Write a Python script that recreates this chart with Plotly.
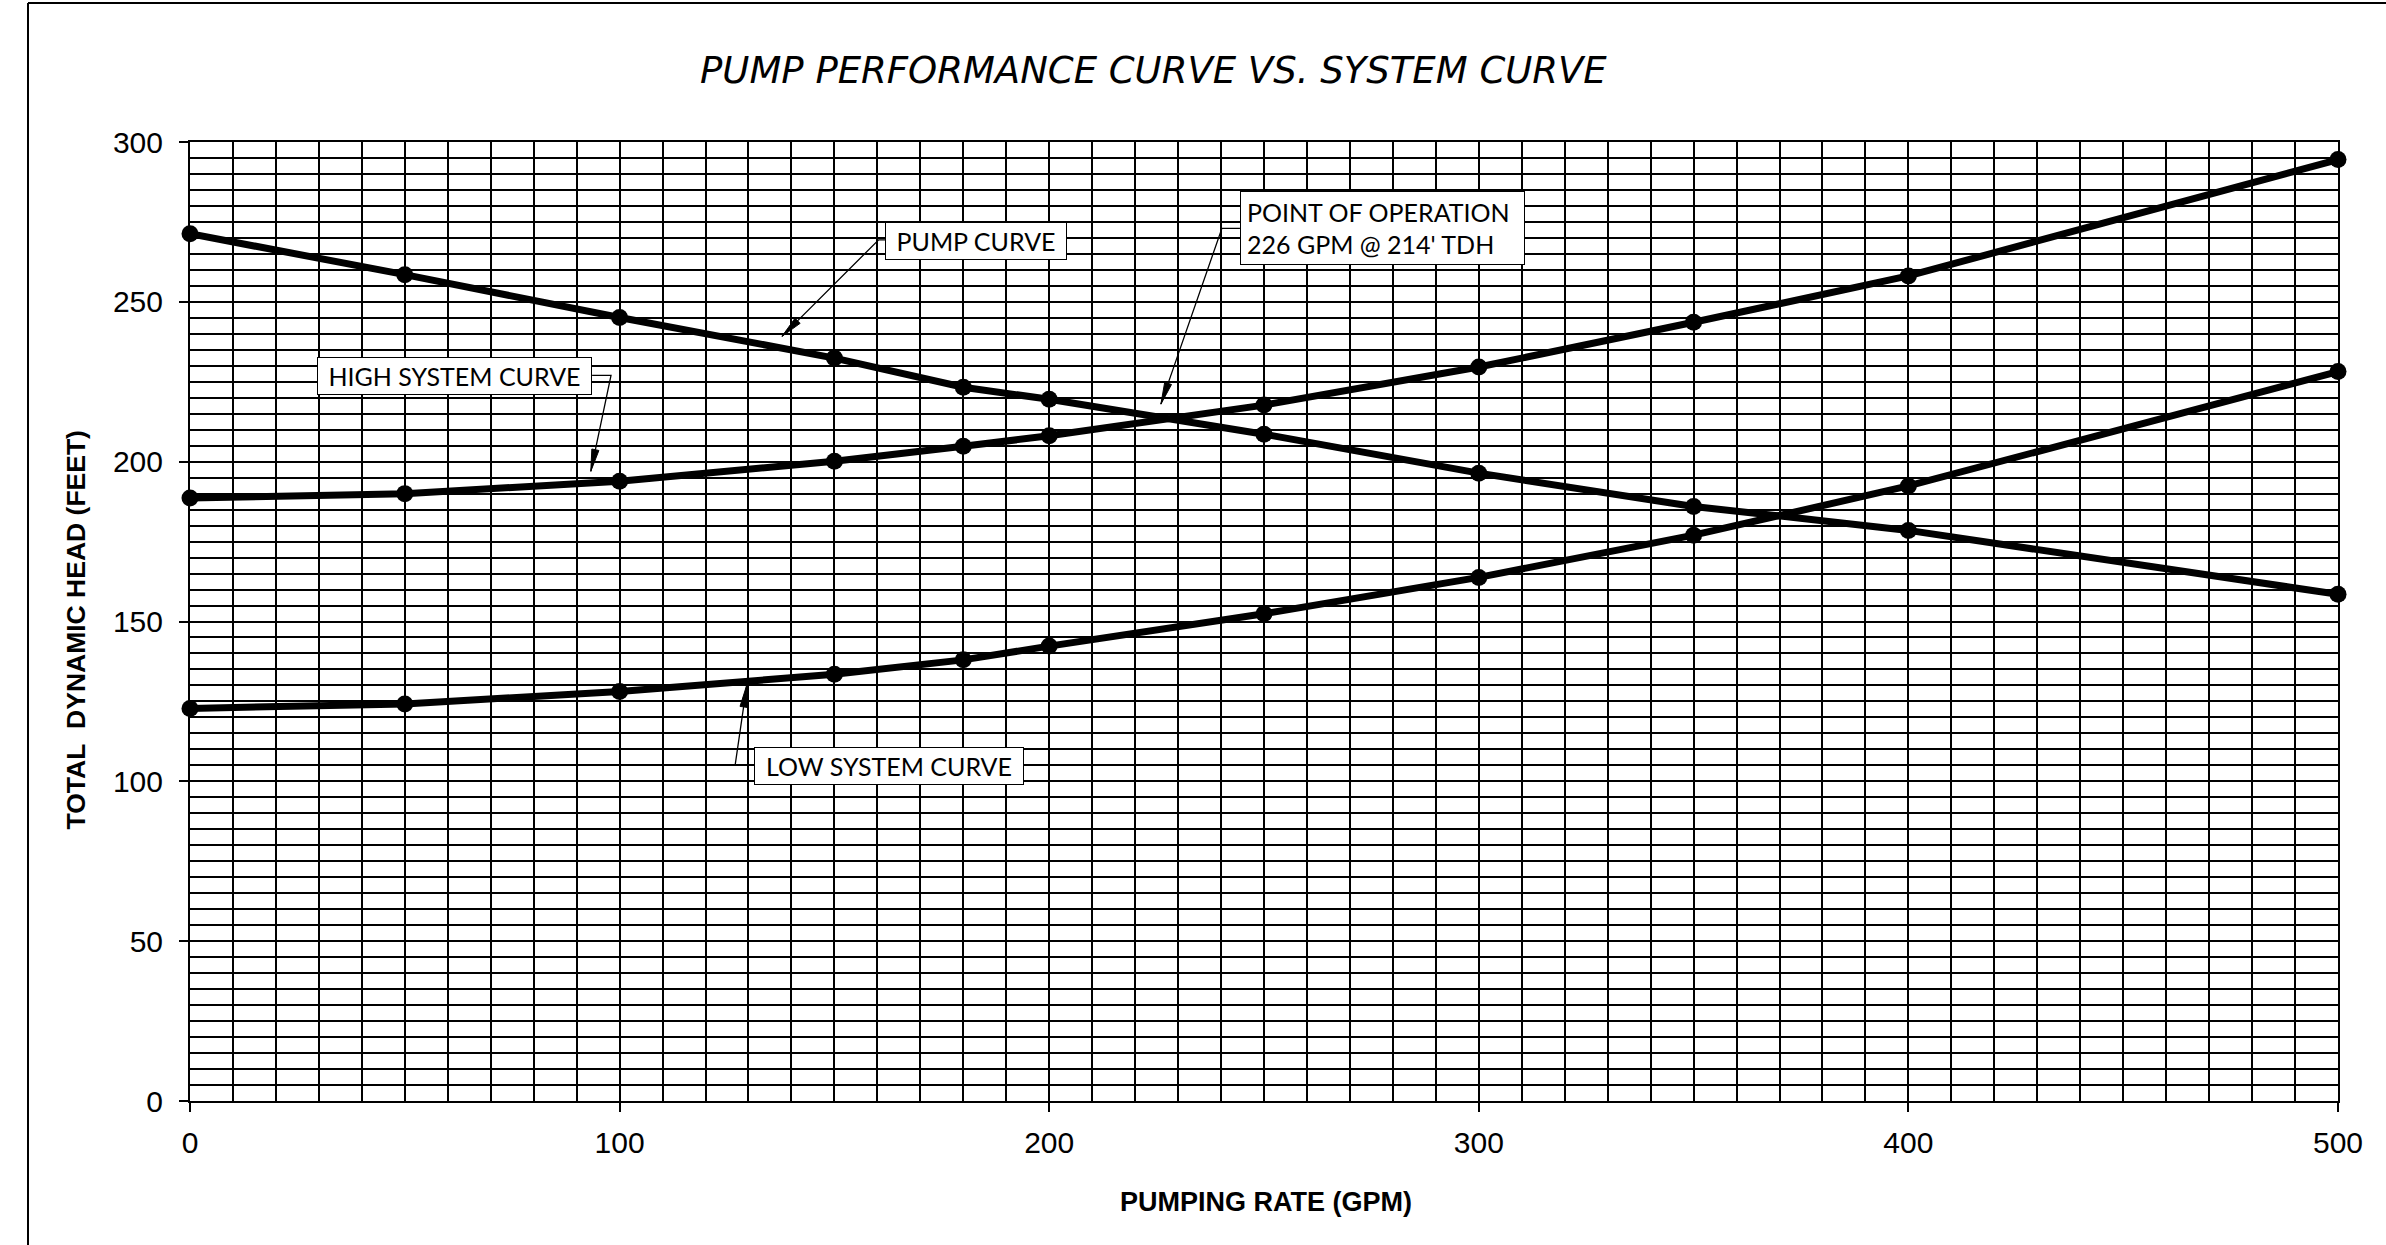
import math
import plotly.graph_objects as go

# ---- data -------------------------------------------------------------
gpm = [0, 50, 100, 150, 180, 200, 250, 300, 350, 400, 500]
pump_head = [271.3, 258.5, 245.1, 232.4, 223.3, 219.5, 208.6, 196.4, 186.0, 178.5, 158.5]
high_system_head = [188.6, 190.0, 193.9, 200.1, 204.8, 208.1, 217.7, 229.6, 243.6, 258.1, 294.5]
low_system_head = [122.8, 124.2, 128.1, 133.5, 138.0, 142.3, 152.4, 163.8, 177.0, 192.4, 228.2]

x_ticks = [0, 100, 200, 300, 400, 500]
y_ticks = [0, 50, 100, 150, 200, 250, 300]

title_text = "PUMP PERFORMANCE CURVE VS. SYSTEM CURVE"
x_title = "PUMPING RATE (GPM)"
y_title = "TOTAL\u00a0 DYNAMIC HEAD (FEET)"

# ---- page geometry ----------------------------------------------------
W, H = 2386, 1245
ML, MR, MT, MB = 190, 48, 142, 144
PW, PH = W - ML - MR, H - MT - MB
X_RANGE = [0, 500]
Y_RANGE = [0, 300]
SX = PW / (X_RANGE[1] - X_RANGE[0])   # px per GPM
SY = PH / (Y_RANGE[1] - Y_RANGE[0])   # px per foot


def paper_x(px):
    return (px - ML) / PW


def paper_y(py):
    return (H - MB - py) / PH


fig = go.Figure()

line_style = dict(color="black", width=7)
marker_style = dict(color="black", size=17)
for name, ys in [("Pump curve", pump_head),
                 ("High system curve", high_system_head),
                 ("Low system curve", low_system_head)]:
    fig.add_trace(go.Scatter(x=gpm, y=ys, mode="lines+markers", name=name,
                             line=line_style, marker=marker_style,
                             cliponaxis=False, showlegend=False))

# ---- callout labels with elbow leaders and arrowheads ----------------
# (text, centre, box w/h in px, align, box edge point, elbow point, arrow tip)
callouts = [
    ("PUMP CURVE", (183.0, 268.9), (182, 38), "center",
     (161.8, 269.4), (160.3, 269.4), (137.8, 239.2)),
    ("POINT OF OPERATION<br>226 GPM @ 214' TDH", (277.6, 273.0), (285, 74), "left",
     (244.4, 273.0), (240.2, 273.0), (226.0, 218.0)),
    ("HIGH SYSTEM CURVE", (61.6, 226.9), (275, 38), "center",
     (93.6, 227.0), (98.0, 227.0), (93.3, 197.0)),
    ("LOW SYSTEM CURVE", (162.8, 104.8), (270, 38), "center",
     (131.3, 105.1), (126.9, 105.1), (129.6, 130.1)),
]

label_font = dict(family="Lato, 'Open Sans', sans-serif", size=25, color="black")
PAD = 6
shapes = []
annotations = []
for text, (cx, cy), (bw, bh), align, edge, elbow, tip in callouts:
    annotations.append(dict(
        x=cx, y=cy, xref="x", yref="y", text=text, showarrow=False,
        xanchor="center", yanchor="middle", align=align,
        font=label_font, bgcolor="white", bordercolor="black",
        borderwidth=1, borderpad=PAD, width=bw - 2 * (PAD + 1),
        height=bh - 2 * (PAD + 1), valign="middle"))

    # leader: short horizontal tag then slanted line to the tip
    shapes.append(dict(type="path", xref="x", yref="y",
                       path=f"M{edge[0]},{edge[1]} L{elbow[0]},{elbow[1]} L{tip[0]},{tip[1]}",
                       line=dict(color="black", width=1.3)))

    # slim filled arrowhead, built in pixel space along the leader direction
    dxp = (tip[0] - elbow[0]) * SX
    dyp = (tip[1] - elbow[1]) * SY
    L = math.hypot(dxp, dyp)
    ux, uy = dxp / L, dyp / L
    nx, ny = -uy, ux
    head_len, head_half = 22, 3.6
    bx, by = -ux * head_len, -uy * head_len
    p1 = (tip[0] + (bx + nx * head_half) / SX, tip[1] + (by + ny * head_half) / SY)
    p2 = (tip[0] + (bx - nx * head_half) / SX, tip[1] + (by - ny * head_half) / SY)
    shapes.append(dict(type="path", xref="x", yref="y",
                       path=f"M{tip[0]},{tip[1]} L{p1[0]},{p1[1]} L{p2[0]},{p2[1]} Z",
                       fillcolor="black", line=dict(color="black", width=1)))

# ---- titles -------------------------------------------------------------
annotations.append(dict(
    x=paper_x(1153), y=paper_y(71), xref="paper", yref="paper",
    text=title_text, showarrow=False, xanchor="center", yanchor="middle",
    font=dict(family="'DejaVu Sans', sans-serif", size=37, color="black",
              style="italic", weight=200)))
annotations.append(dict(
    x=paper_x(1266), y=paper_y(1202), xref="paper", yref="paper",
    text=x_title, showarrow=False, xanchor="center", yanchor="middle",
    font=dict(family="'Liberation Sans Narrow', 'Liberation Sans', Arial, sans-serif",
              size=27, color="black", weight="bold")))
annotations.append(dict(
    x=paper_x(75.5), y=paper_y(630), xref="paper", yref="paper",
    text=y_title, showarrow=False, xanchor="center", yanchor="middle",
    textangle=-90,
    font=dict(family="'Liberation Sans Narrow', 'Liberation Sans', Arial, sans-serif",
              size=26.5, color="black", weight="bold")))

# ---- page frame (left and top rule) ------------------------------------
frame = dict(color="black", width=2)
shapes.append(dict(type="line", xref="paper", yref="paper",
                   x0=paper_x(28), x1=paper_x(28), y0=paper_y(3), y1=paper_y(H + 5),
                   line=frame))
shapes.append(dict(type="line", xref="paper", yref="paper",
                   x0=paper_x(28), x1=paper_x(W + 5), y0=paper_y(3), y1=paper_y(3),
                   line=frame))

tick_font = dict(family="'Liberation Sans', Arial, sans-serif", size=30, color="black")
axis_common = dict(
    showgrid=True, gridcolor="black", gridwidth=2,
    showline=True, linecolor="black", linewidth=2, mirror=True,
    ticks="outside", ticklen=9, tickwidth=2, tickcolor="black",
    zeroline=False, tickfont=tick_font, fixedrange=True,
)

fig.update_layout(
    width=W, height=H, autosize=False,
    margin=dict(l=ML, r=MR, t=MT, b=MB, pad=0),
    paper_bgcolor="white", plot_bgcolor="white",
    xaxis=dict(range=X_RANGE, tickvals=x_ticks, ticklabelstandoff=5,
               minor=dict(dtick=10, tick0=0, showgrid=True, gridcolor="black",
                          gridwidth=1.8, ticks=""),
               **axis_common),
    yaxis=dict(range=Y_RANGE, tickvals=y_ticks, ticklabelstandoff=10,
               minor=dict(dtick=5, tick0=0, showgrid=True, gridcolor="black",
                          gridwidth=2.2, ticks=""),
               **axis_common),
    shapes=shapes,
    annotations=annotations,
    showlegend=False,
)

fig.write_html("out.html")
